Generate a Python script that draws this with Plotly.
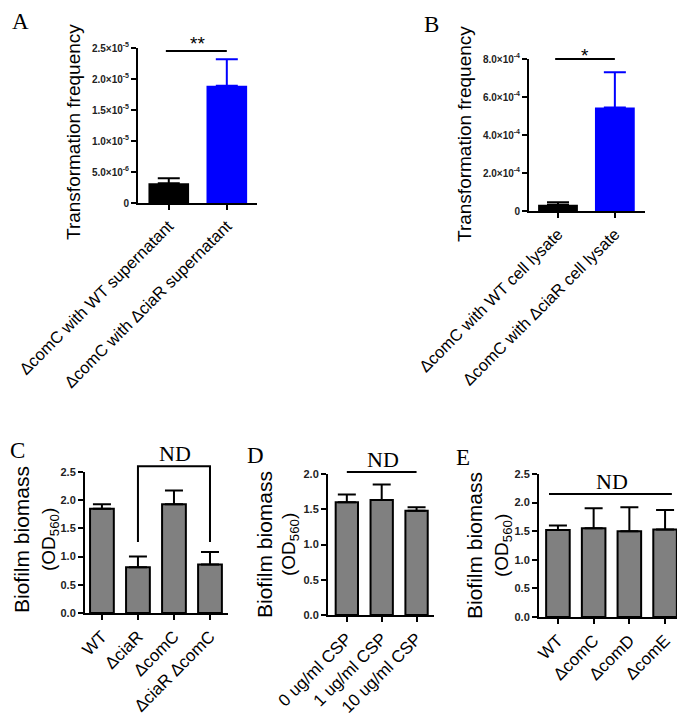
import plotly.graph_objects as go

# page body has an 8px margin; the figure is sized to fill the rest of the window
OFF = 8
W, H = 685 - OFF, 723 - OFF

# ---------------- data ----------------
a_cats = ["ΔcomC with WT supernatant", "ΔcomC with ΔciaR supernatant"]
a_vals = [3.2e-6, 1.89e-5]
a_err = [0.8e-6, 4.3e-6]
a_colors = ["#000000", "#0000ff"]
a_ticks = [0, 5e-6, 1e-5, 1.5e-5, 2e-5, 2.5e-5]
a_ticktext = ["0", "5.0×10<sup>-6</sup>", "1.0×10<sup>-5</sup>", "1.5×10<sup>-5</sup>",
              "2.0×10<sup>-5</sup>", "2.5×10<sup>-5</sup>"]

b_cats = ["ΔcomC with WT cell lysate", "ΔcomC with ΔciaR cell lysate"]
b_vals = [3.3e-5, 5.45e-4]
b_err = [1.3e-5, 1.85e-4]
b_colors = ["#000000", "#0000ff"]
b_ticks = [0, 2e-4, 4e-4, 6e-4, 8e-4]
b_ticktext = ["0", "2.0×10<sup>-4</sup>", "4.0×10<sup>-4</sup>", "6.0×10<sup>-4</sup>",
              "8.0×10<sup>-4</sup>"]

c_cats = ["WT", "ΔciaR", "ΔcomC", "ΔciaR ΔcomC"]
c_vals = [1.85, 0.81, 1.93, 0.86]
c_err = [0.08, 0.19, 0.24, 0.22]
c_ticks = [0, 0.5, 1.0, 1.5, 2.0, 2.5]

d_cats = ["0 ug/ml CSP", "1 ug/ml CSP", "10 ug/ml CSP"]
d_vals = [1.60, 1.63, 1.48]
d_err = [0.11, 0.22, 0.05]
d_ticks = [0, 0.5, 1.0, 1.5, 2.0]

e_cats = ["WT", "ΔcomC", "ΔcomD", "ΔcomE"]
e_vals = [1.52, 1.55, 1.50, 1.53]
e_err = [0.08, 0.35, 0.42, 0.34]
e_ticks = [0, 0.5, 1.0, 1.5, 2.0, 2.5]

# ---------------- helpers ----------------
SANS = "Liberation Sans, Arial, sans-serif"
SERIF = "Liberation Serif, Times New Roman, serif"


def fx(px):
    return (px - OFF) / W


def fy(py):
    return 1 - (py - OFF) / H


def xd(p0, p1):
    return [fx(p0), fx(p1)]


def yd(p0, p1):
    return [fy(p1), fy(p0)]


fig = go.Figure()

panels = [
    ("", a_cats, a_vals, a_err, a_colors, a_ticks, a_ticktext, (138, 257), (48, 203), [-0.53, 1.52], [0, 2.5e-5], 16.5, 10, 0, 0.70, 11),
    ("2", b_cats, b_vals, b_err, b_colors, b_ticks, b_ticktext, (529, 645), (59, 211), [-0.51, 1.53], [0, 8e-4], 16.5, 10, 0, 0.70, 11),
    ("3", c_cats, c_vals, c_err, None, c_ticks, [f"{t:.1f}" for t in c_ticks], (85, 228), (472, 613), [-0.47, 3.5], [0, 2.5], 17, 11, 2, 0.66, 9),
    ("4", d_cats, d_vals, d_err, None, d_ticks, [f"{t:.1f}" for t in d_ticks], (328, 434), (474, 615), [-0.54, 2.5], [0, 2.0], 17, 11, 2, 0.64, 9),
    ("5", e_cats, e_vals, e_err, None, e_ticks, [f"{t:.1f}" for t in e_ticks], (539, 684), (474, 617), [-0.53, 3.53], [0, 2.5], 17, 11, 2, 0.66, 9),
]
yranges = {}

layout = dict(width=W, height=H, margin=dict(l=0, r=0, t=0, b=0, autoexpand=False),
              template="none",
              paper_bgcolor="white", plot_bgcolor="white", showlegend=False,
              barmode="overlay", font=dict(family=SANS, color="black"))

for (sfx, cats, vals, errs, colors, yt, ytt, xdp, ydp, xr, yr, xls, yts, outline, bw, cap) in panels:
    xa = "x" + sfx
    ya = "y" + sfx
    yranges[sfx] = yr
    idx = list(range(len(cats)))
    if colors is not None:
        for i in idx:
            fig.add_trace(go.Bar(
                x=[i], y=[vals[i]], xaxis=xa, yaxis=ya, width=bw,
                marker=dict(color=colors[i], line=dict(width=0)),
                error_y=dict(type="data", symmetric=False, array=[errs[i]], arrayminus=[0],
                             color=colors[i], thickness=2, width=cap)))
    else:
        fig.add_trace(go.Bar(
            x=idx, y=vals, xaxis=xa, yaxis=ya, width=bw,
            marker=dict(color="#808080", line=dict(width=outline, color="black")),
            error_y=dict(type="data", symmetric=False, array=errs, arrayminus=[0] * len(errs),
                         color="black", thickness=2, width=cap)))
    layout["xaxis" + sfx] = dict(
        domain=xd(*xdp), anchor=ya, range=xr, tickmode="array", tickvals=idx, ticktext=cats,
        tickangle=-45, showline=True, linecolor="black", linewidth=2, ticks="outside",
        ticklen=5, tickwidth=1.5, tickcolor="black", showgrid=False, zeroline=False,
        automargin=False,
        tickfont=dict(family=SANS, size=xls, color="black"), fixedrange=True)
    layout["yaxis" + sfx] = dict(
        domain=yd(*ydp), anchor=xa, range=yr, tickmode="array", tickvals=yt, ticktext=ytt,
        showline=True, linecolor="black", linewidth=2, ticks="outside", ticklen=5,
        tickwidth=1.5, tickcolor="black", showgrid=False, zeroline=False,
        automargin=False,
        tickfont=dict(family=SANS, size=yts, color="#222", weight="bold"), fixedrange=True)

shapes = []


def line(xs, ys, sfx):
    # significance / bracket lines: x in category index, y as fraction of the y-axis range
    ymax = yranges[sfx][1]
    path = " ".join(("M" if i == 0 else "L") + f" {x} {y / ymax}" for i, (x, y) in enumerate(zip(xs, ys)))
    shapes.append(dict(type="path", path=path, xref="x" + sfx, yref=("y" + sfx + " domain"),
                       line=dict(color="black", width=2)))


line([-0.05, 1.0], [2.45e-5, 2.45e-5], "")
line([-0.05, 1.0], [8.0e-4, 8.0e-4], "2")
line([1, 1, 3, 3], [1.26, 2.6, 2.6, 1.26], "3")
line([0, 2], [2.03, 2.03], "4")
line([-0.25, 3.19], [2.15, 2.15], "5")

anns = []


def ann(text, px, py, size, family=SANS, angle=0, xanchor="center"):
    anns.append(dict(text=text, x=fx(px), y=fy(py), xref="paper", yref="paper", showarrow=False,
                     xanchor=xanchor, yanchor="middle", textangle=angle,
                     font=dict(family=family, size=size, color="black")))


ann("**", 197, 44, 19)
ann("*", 585, 55, 19)
ann("ND", 175, 453, 22, SERIF)
ann("ND", 383, 459, 22, SERIF)
ann("ND", 612, 482, 22, SERIF)

# panel letters
ann("A", 20, 21, 23, SERIF)
ann("B", 432, 24, 23, SERIF)
ann("C", 8, 451, 23, SERIF, xanchor="left")
ann("D", 256, 455, 23, SERIF)
ann("E", 463, 457, 23, SERIF)

# axis titles
ann("Transformation frequency", 74, 132, 19, angle=-90)
ann("Transformation frequency", 465, 134, 19, angle=-90)
for bx, ox, cy in [(21, 50, 540), (264, 290, 545), (474, 503, 546)]:
    ann("Biofilm biomass", bx, cy, 21, angle=-90)
    ann("(OD<sub>560</sub>)", ox, cy, 19, angle=-90)

layout["annotations"] = anns
layout["shapes"] = shapes
fig.update_layout(**layout)
fig.write_html("out.html")
